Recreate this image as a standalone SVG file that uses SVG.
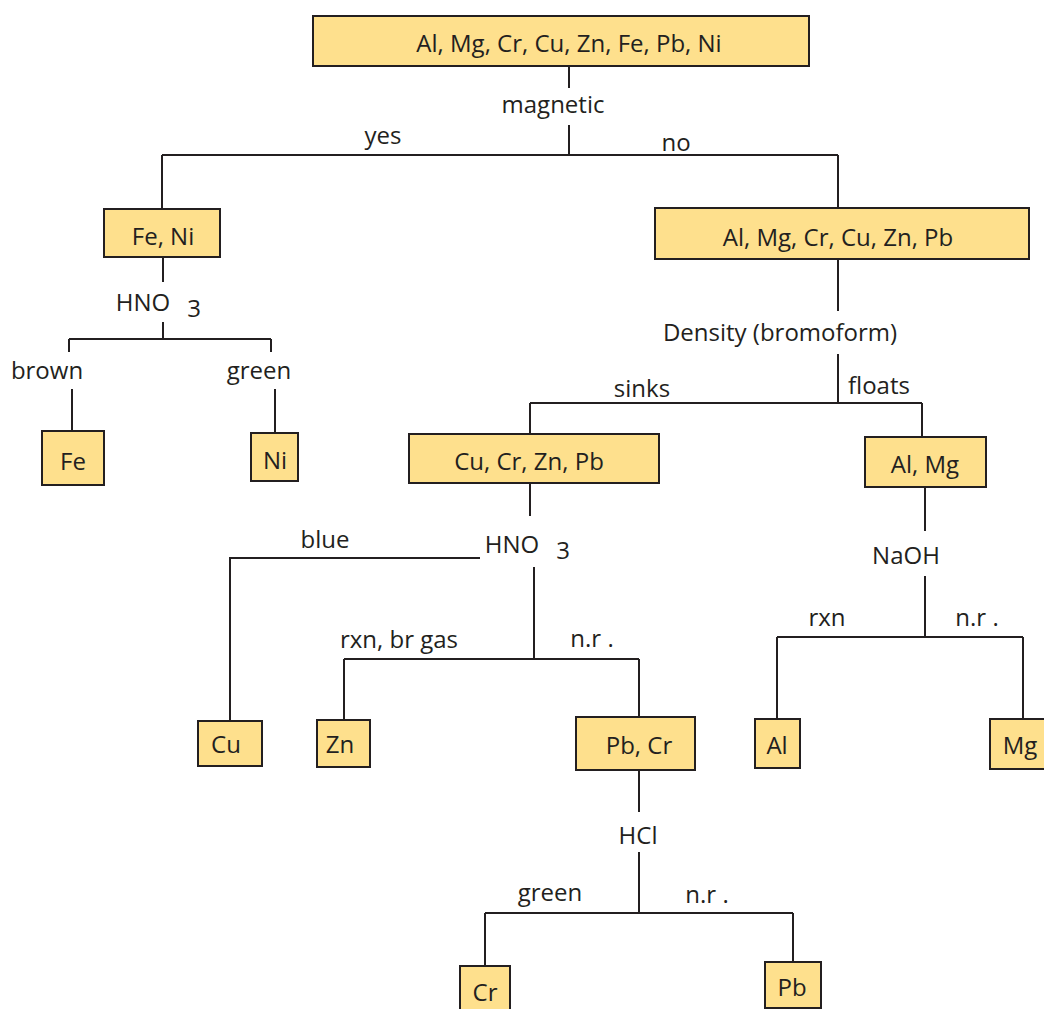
<svg xmlns="http://www.w3.org/2000/svg" width="1044" height="1009" viewBox="0 0 1044 1009">
<style>
.box{fill:#fee08d;stroke:#231f20;stroke-width:2}
text{font-family:"Open Sans","Liberation Sans",sans-serif;font-size:24px;fill:#231f20;text-anchor:middle}
.ln{fill:none;stroke:#231f20;stroke-width:2}
</style>
<rect width="1044" height="1009" fill="#ffffff"/>
<g id="connectors" class="ln">
<path d="M569,66V88"/>
<path d="M569,125V155M162,155H838M162,155V209M838,155V208"/>
<path d="M163,257V282"/>
<path d="M163,322V339M69,339H271M69,339V352M271,339V352"/>
<path d="M72,389V431"/>
<path d="M275,389V433"/>
<path d="M838,259V311"/>
<path d="M838,354V403M530,403H922M530,403V434M922,403V437"/>
<path d="M530,483V516"/>
<path d="M480,558H230V721"/>
<path d="M534,567V659M344,659H639M344,659V720M639,659V717"/>
<path d="M925,487V531"/>
<path d="M925,576V637M777,637H1023M777,637V719M1023,637V719"/>
<path d="M639,770V812"/>
<path d="M639,852V913M485,913H793M485,913V966M793,913V962"/>
</g>
<g id="n-root"><rect class="box" x="313" y="16" width="496" height="50"/><text x="569" y="52">Al, Mg, Cr, Cu, Zn, Fe, Pb, Ni</text></g>
<g id="l-magnetic"><text x="553" y="113">magnetic</text></g>
<g id="l-yes"><text x="383" y="144">yes</text></g>
<g id="l-no"><text x="676" y="151">no</text></g>
<g id="n-feni"><rect class="box" x="104" y="209" width="116" height="48"/><text x="163" y="245">Fe, Ni</text></g>
<g id="l-hno3a"><text x="143" y="311">HNO</text><text x="194" y="317">3</text></g>
<g id="l-brown"><text x="47" y="379">brown</text></g>
<g id="l-green1"><text x="259" y="379">green</text></g>
<g id="n-fe"><rect class="box" x="42" y="431" width="62" height="54"/><text x="73" y="470">Fe</text></g>
<g id="n-ni"><rect class="box" x="251" y="433" width="47" height="48"/><text x="275" y="469">Ni</text></g>
<g id="n-nonmag"><rect class="box" x="655" y="208" width="374" height="51"/><text x="838" y="246">Al, Mg, Cr, Cu, Zn, Pb</text></g>
<g id="l-density"><text x="780" y="341">Density (bromoform)</text></g>
<g id="l-sinks"><text x="642" y="397">sinks</text></g>
<g id="l-floats"><text x="879" y="394">floats</text></g>
<g id="n-cucrznpb"><rect class="box" x="409" y="434" width="250" height="49"/><text x="529" y="470">Cu, Cr, Zn, Pb</text></g>
<g id="n-almg"><rect class="box" x="865" y="437" width="121" height="50"/><text x="925" y="473">Al, Mg</text></g>
<g id="l-hno3b"><text x="512" y="553">HNO</text><text x="563" y="559">3</text></g>
<g id="l-blue"><text x="325" y="548">blue</text></g>
<g id="l-rxnbr"><text x="399" y="648">rxn, br gas</text></g>
<g id="l-nr1"><text x="592" y="647">n.r .</text></g>
<g id="n-cu"><rect class="box" x="198" y="721" width="64" height="45"/><text x="226" y="753">Cu</text></g>
<g id="n-zn"><rect class="box" x="317" y="720" width="53" height="47"/><text x="340" y="753">Zn</text></g>
<g id="n-pbcr"><rect class="box" x="576" y="717" width="119" height="53"/><text x="639" y="754">Pb, Cr</text></g>
<g id="l-naoh"><text x="906" y="564">NaOH</text></g>
<g id="l-rxn"><text x="827" y="626">rxn</text></g>
<g id="l-nr2"><text x="977" y="626">n.r .</text></g>
<g id="n-al"><rect class="box" x="755" y="719" width="45" height="49"/><text x="777" y="754">Al</text></g>
<g id="n-mg"><rect class="box" x="990" y="719" width="60" height="50"/><text x="1020" y="754">Mg</text></g>
<g id="l-hcl"><text x="638" y="844">HCl</text></g>
<g id="l-green2"><text x="550" y="901">green</text></g>
<g id="l-nr3"><text x="707" y="903">n.r .</text></g>
<g id="n-cr"><rect class="box" x="460" y="966" width="50" height="50"/><text x="485" y="1001">Cr</text></g>
<g id="n-pb"><rect class="box" x="765" y="962" width="56" height="46"/><text x="792" y="996">Pb</text></g>
</svg>
